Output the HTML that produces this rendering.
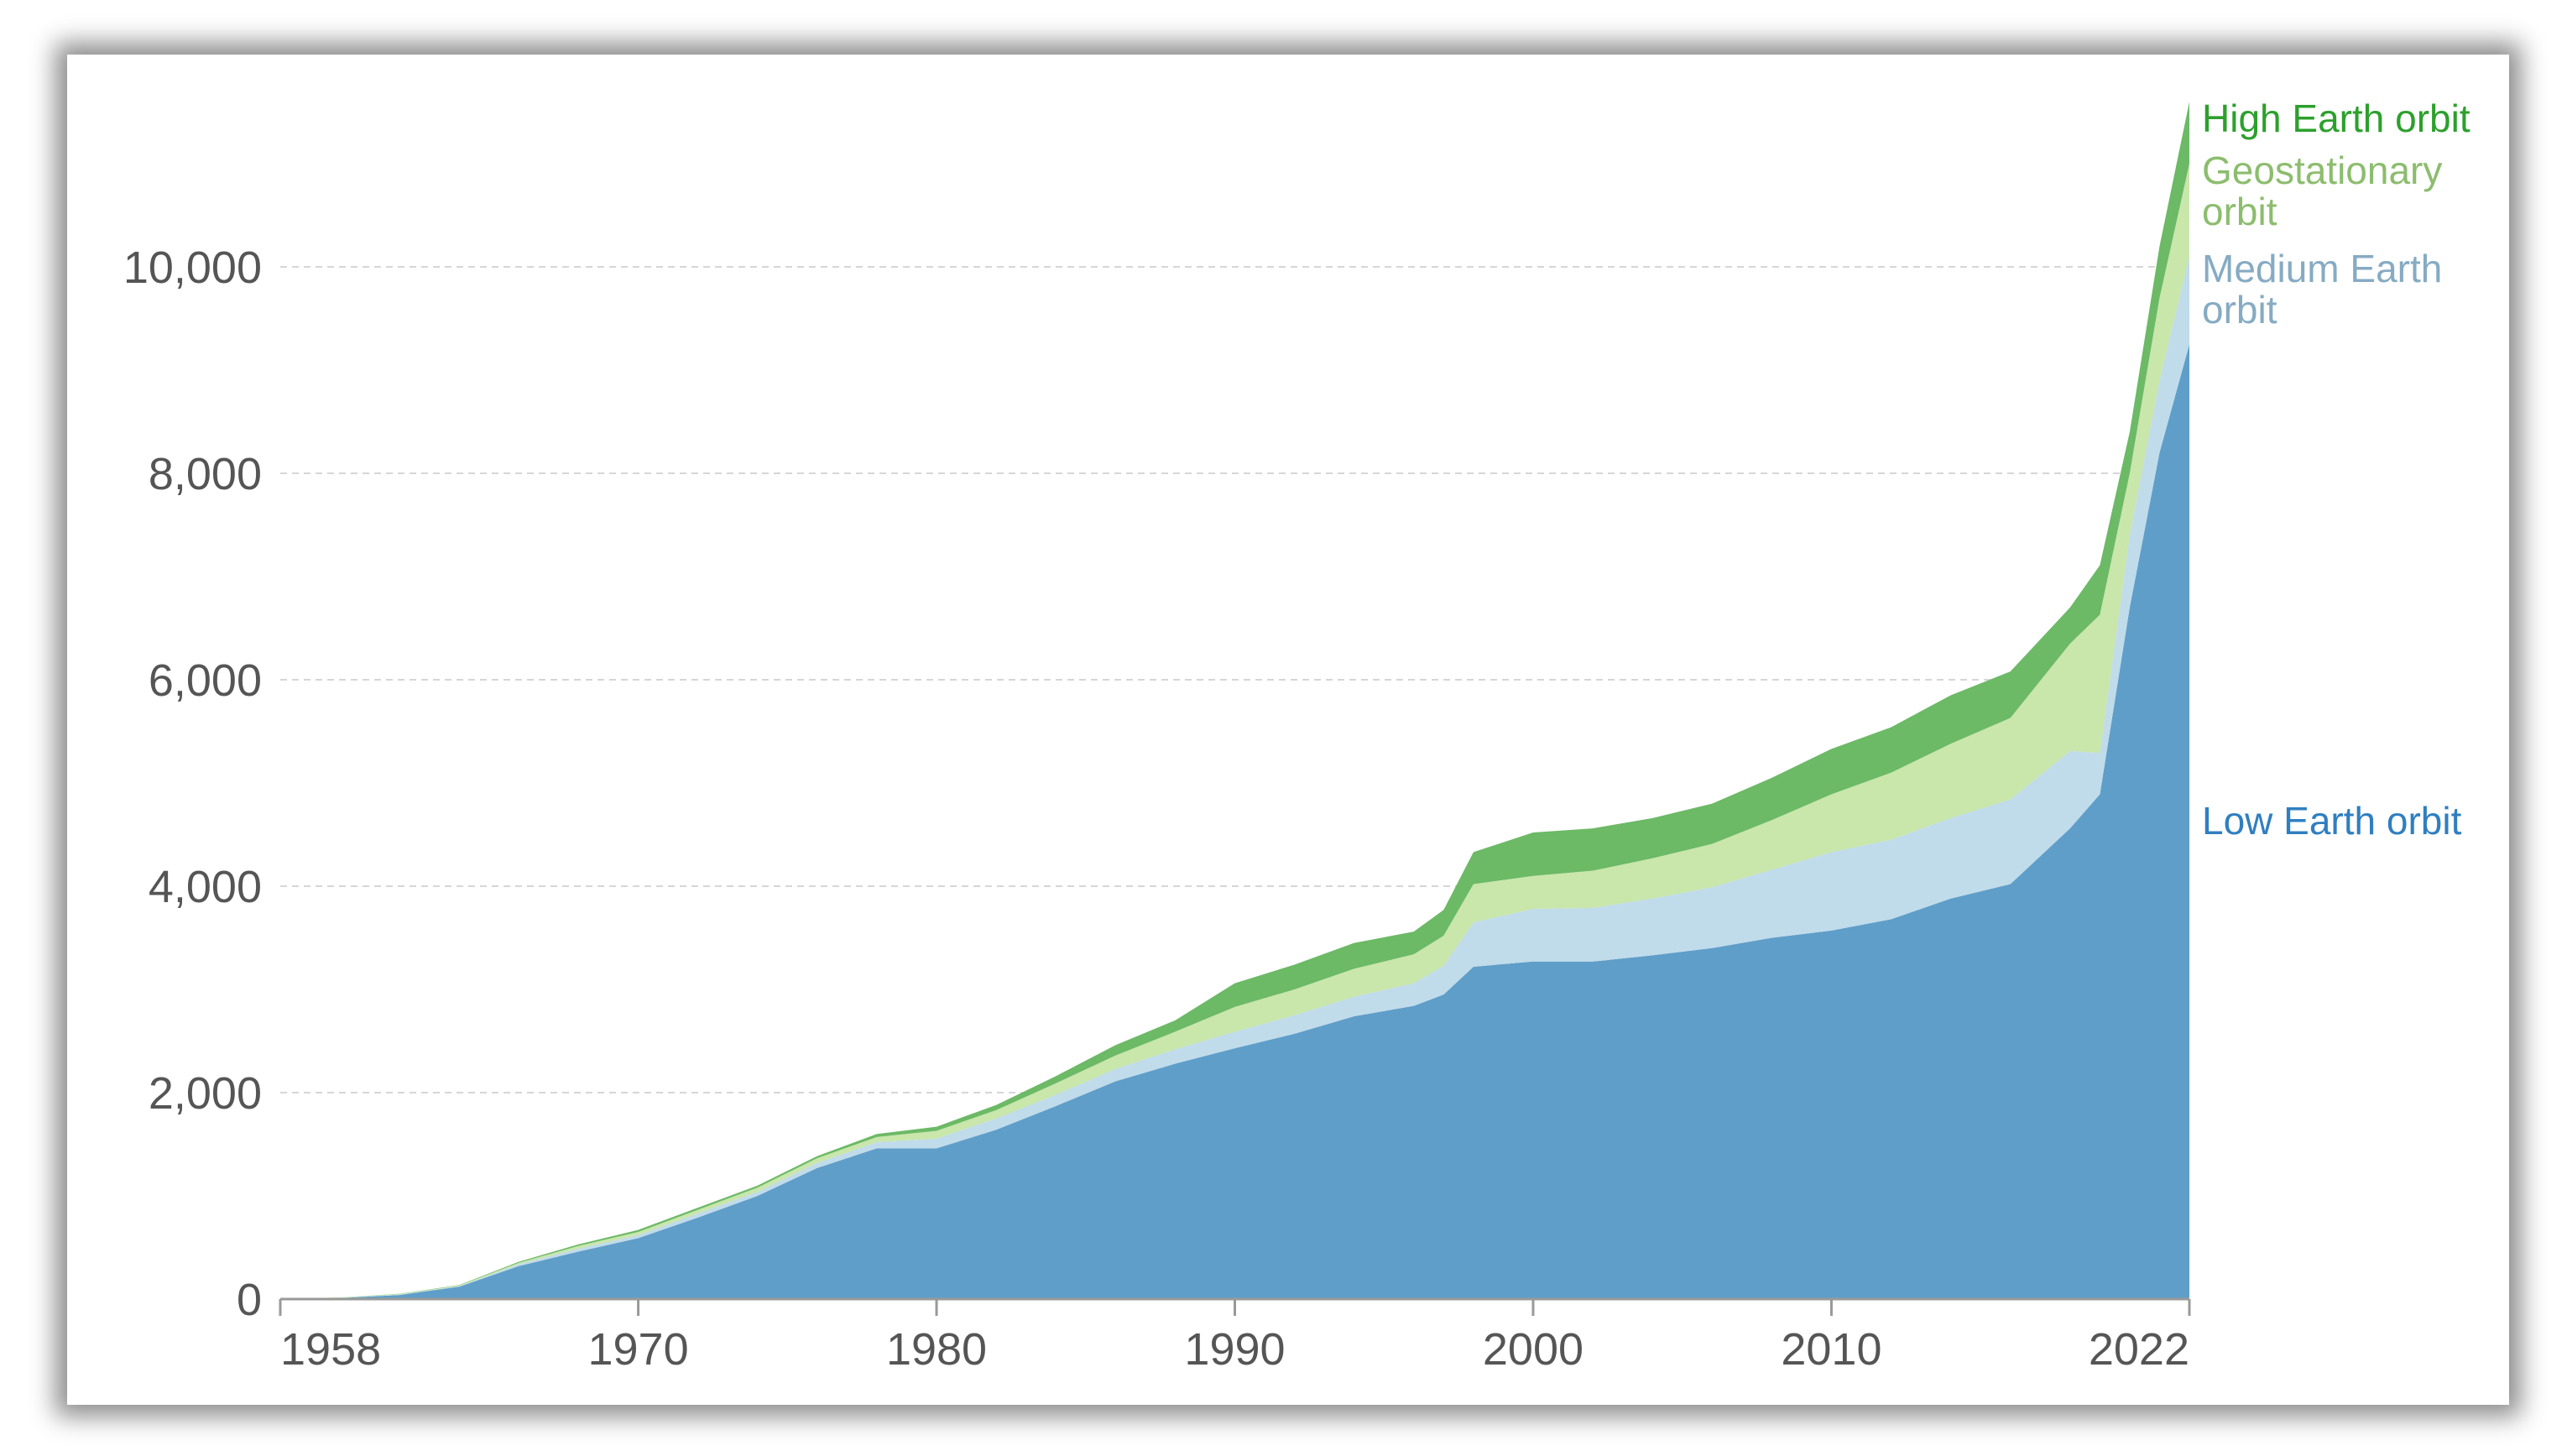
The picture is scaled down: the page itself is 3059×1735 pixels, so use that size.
<!DOCTYPE html>
<html><head><meta charset="utf-8"><style>
html,body{margin:0;padding:0;background:#fff;width:3059px;height:1735px;overflow:hidden}
#panel{position:absolute;left:80px;top:65px;width:2910px;height:1609px;background:#fff;box-shadow:0 0 28px 14px rgba(0,0,0,0.45)}
svg{position:absolute;left:0;top:0}
text{font-family:"Liberation Sans",sans-serif}
</style></head><body>
<div id="panel"></div>
<svg id="chart" width="3059" height="1735"></svg>
<script>
const years=[1958,1960,1962,1964,1966,1968,1970,1972,1974,1976,1978,1980,1982,1984,1986,1988,1990,1992,1994,1996,1997,1998,2000,2002,2004,2006,2008,2010,2012,2014,2016,2018,2019,2020,2021,2022];
const leo=[0,10,40,120,320,460,590,790,1000,1270,1460,1460,1640,1870,2110,2280,2430,2570,2740,2840,2950,3220,3270,3270,3330,3400,3500,3570,3680,3880,4020,4560,4890,6700,8200,9250];
const meo=[0,2,5,6,18,30,30,40,40,50,60,95,110,110,120,140,160,180,190,220,280,430,510,520,550,590,660,760,770,780,820,750,400,700,700,850];
const geo=[0,2,5,6,14,25,30,35,40,45,50,75,80,110,130,170,240,250,270,280,290,370,320,360,390,420,480,560,650,720,790,1040,1340,600,800,900];
const heo=[0,1,2,4,10,15,20,20,20,20,30,40,50,70,100,110,230,240,250,220,250,310,420,410,390,390,410,440,440,470,450,350,480,400,500,600];
const yTicks=[0,2000,4000,6000,8000,10000];
const yTickLabels=["0","2,000","4,000","6,000","8,000","10,000"];
const xTicks=[1958,1970,1980,1990,2000,2010,2022];
const seriesNames=["Low Earth orbit","Medium Earth orbit","Geostationary orbit","High Earth orbit"];

const NS="http://www.w3.org/2000/svg";
const svg=document.getElementById('chart');
const X0=334,X1=2609,Y0=1548,Y1=318;
const x=y=>X0+(y-1958)/(2022-1958)*(X1-X0);
const yS=v=>Y0+(v/10000)*(Y1-Y0);
function mk(t,a){const e=document.createElementNS(NS,t);for(const k in a)e.setAttribute(k,a[k]);svg.appendChild(e);return e;}

yTicks.forEach((v,i)=>{
  if(v>0){const g=mk('line',{x1:X0,x2:X1,y1:yS(v),y2:yS(v),stroke:'#d6d6d6','stroke-width':2,'stroke-dasharray':'8,6'});
  
  }
  const t=mk('text',{x:312,y:yS(v)+19,'text-anchor':'end','font-size':54,fill:'#555'});
  t.textContent=yTickLabels[i];
  
  
});

const layers=[leo,meo,geo,heo];
const colors=['#5f9ec9','#c0dbea','#c9e6ab','#6cb966'];
const keys=['leo','meo','geo','heo'];
let base=years.map(()=>0);
layers.forEach((arr,li)=>{
  const top=base.map((b,i)=>b+arr[i]);
  let d='M'+years.map((yr,i)=>x(yr)+','+yS(top[i])).join(' L');
  for(let i=years.length-1;i>=0;i--)d+=' L'+x(years[i])+','+yS(base[i]);
  d+='Z';
  const p=mk('path',{d:d,fill:colors[li]});
  
  
  base=top;
});

const ax=mk('line',{x1:X0,x2:X1,y1:Y0,y2:Y0,stroke:'#999','stroke-width':3});


xTicks.forEach((yr,i)=>{
  const tk=mk('line',{x1:x(yr),x2:x(yr),y1:Y0,y2:Y0+20,stroke:'#999','stroke-width':3});
  
  
  const anchor=i===0?'start':(i===xTicks.length-1?'end':'middle');
  const t=mk('text',{x:x(yr),y:1626,'text-anchor':anchor,'font-size':54,fill:'#555'});
  t.textContent=String(yr);
  
  
});

const labels=[
 {lines:["High Earth orbit"],y:157,c:'#2ca02c',k:'heo'},
 {lines:["Geostationary","orbit"],y:219,c:'#8cbd6e',k:'geo'},
 {lines:["Medium Earth","orbit"],y:336,c:'#86abc3',k:'meo'},
 {lines:["Low Earth orbit"],y:994,c:'#2f7fc0',k:'leo'}
];
labels.forEach(l=>{
  l.lines.forEach((s,j)=>{
    const t=mk('text',{x:2624,y:l.y+j*49,'font-size':46,fill:l.c});
    t.textContent=s;
    
    
  });
});
</script>
</body></html>
